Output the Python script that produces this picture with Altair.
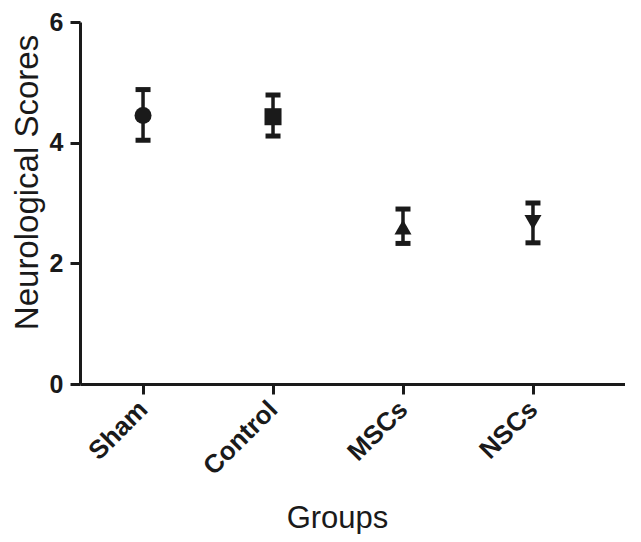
import altair as alt
import pandas as pd

categories = ["Sham", "Control", "MSCs", "NSCs"]
means = [4.45, 4.43, 2.60, 2.68]
upper = [4.88, 4.79, 2.90, 3.00]
lower = [4.04, 4.11, 2.33, 2.34]
shapes = ["circle", "square", "triangle-up", "triangle-down"]
y_ticks = [0, 2, 4, 6]

df = pd.DataFrame({
    "idx": list(range(1, len(categories) + 1)),
    "group": categories,
    "mean": means,
    "hi": upper,
    "lo": lower,
})

INK = "#1a1a1a"
FONT = "Liberation Sans"
label_expr = "[" + ",".join("'%s'" % c for c in categories) + "][datum.value - 1]"

x_enc = alt.X(
    "idx:Q",
    scale=alt.Scale(domain=[0.515, 4.708], nice=False, zero=False),
    axis=alt.Axis(
        values=list(range(1, len(categories) + 1)),
        labelExpr=label_expr,
        labelAngle=-45,
        labelAlign="right",
        labelBaseline="middle",
        labelPadding=11,
        labelFontSize=26,
        labelFontWeight="bold",
        title="Groups",
        titleFontSize=31,
        titleFontWeight="normal",
        titleX=257,
        titleY=143,
        titleBaseline="alphabetic",
        titleAnchor="middle",
    ),
)
y_axis = alt.Axis(
    values=y_ticks,
    format="d",
    labelFontSize=25,
    labelFontWeight="bold",
    labelPadding=7,
    title="Neurological  Scores",
    titleFontSize=33,
    titleFontWeight="normal",
    titleX=-53,
    titleY=160,
    titleAngle=-90,
    titleAlign="center",
    titleBaseline="middle",
)
y_scale = alt.Scale(domain=[0, 6], nice=False)

base = alt.Chart(df)

bars = base.mark_rule(color=INK, strokeWidth=3.5).encode(
    x=x_enc,
    y=alt.Y("lo:Q", scale=y_scale, axis=y_axis),
    y2="hi:Q",
)
cap_hi = base.mark_tick(color=INK, orient="horizontal", size=15, thickness=5, opacity=1).encode(
    x="idx:Q", y="hi:Q"
)
cap_lo = base.mark_tick(color=INK, orient="horizontal", size=15, thickness=5, opacity=1).encode(
    x="idx:Q", y="lo:Q"
)
points = base.mark_point(filled=True, color=INK, opacity=1, size=290).encode(
    x="idx:Q",
    y="mean:Q",
    shape=alt.Shape("group:N", scale=alt.Scale(domain=categories, range=shapes), legend=None),
)

chart = (
    alt.layer(bars, cap_hi, cap_lo, points)
    .properties(
        width=545,
        height=362,
        autosize=alt.AutoSizeParams(type="none"),
        padding={"left": 72, "top": 14, "right": 0, "bottom": 150},
    )
    .configure_view(stroke=None)
    .configure_axis(
        grid=False,
        domainColor=INK,
        domainWidth=3,
        tickColor=INK,
        tickWidth=3,
        tickSize=10,
        labelColor=INK,
        titleColor=INK,
        labelFont=FONT,
        titleFont=FONT,
    )
)

chart.save("out.html", embed_options={"renderer": "svg", "actions": False})
